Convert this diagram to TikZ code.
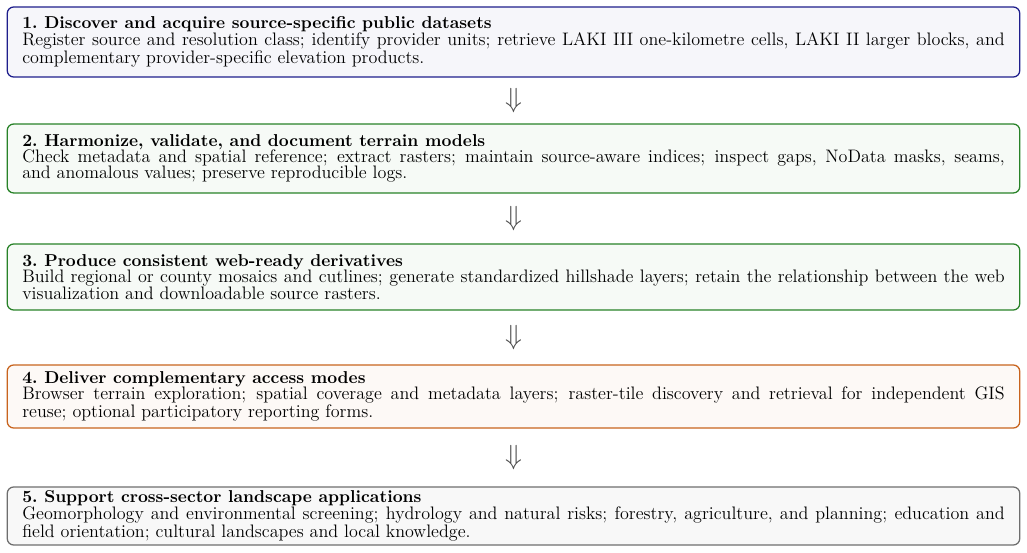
\documentclass[tikz,border=0pt]{standalone}
\usepackage{xcolor}

\definecolor{stepblue}{RGB}{30,30,140}
\definecolor{stepgreen}{RGB}{40,130,40}
\definecolor{steporange}{RGB}{200,100,30}
\definecolor{stepgray}{RGB}{110,110,110}

\hyphenpenalty=10000
\tolerance=5000
\lineskiplimit=-3pt

\newcommand{\stagetitle}[1]{{\fontsize{10.75pt}{10.2pt}\selectfont\bfseries #1}\\}

\begin{document}
\begin{tikzpicture}[x=0.625pt,y=0.625pt,
	stage/.style={draw,thick,rounded corners=4pt,text width=614pt,align=justify,
		inner xsep=9.4pt,inner ysep=1pt,anchor=center,
		font=\fontsize{11.3pt}{10.2pt}\selectfont},
	downarrow/.style={font=\LARGE,text=black!70}]

	\useasboundingbox (0,0) rectangle (1027,-553);

	% Stages
	\node[stage,draw=stepblue,fill=stepblue!4,minimum height=43.75pt] (s1) at (513.5,-42)
		{\stagetitle{1.\ Discover and acquire source-specific public datasets}
		Register source and resolution class; identify provider units; retrieve LAKI III one-kilometre cells, LAKI II larger blocks, and complementary provider-specific elevation products.};
	\node[stage,draw=stepgreen,fill=stepgreen!4,minimum height=43.1pt] (s2) at (513.5,-158.5)
		{\stagetitle{2.\ Harmonize, validate, and document terrain models}
		Check metadata and spatial reference; extract rasters; maintain source-aware indices; inspect gaps, NoData masks, seams,\linebreak and anomalous values; preserve reproducible logs.};
	\node[stage,draw=stepgreen,fill=stepgreen!4,minimum height=41.25pt] (s3) at (513.5,-277)
		{\stagetitle{3.\ Produce consistent web-ready derivatives}
		Build regional or county mosaics and cutlines; generate standardized hillshade layers; retain the relationship between the web visualization and downloadable source rasters.};
	\node[stage,draw=steporange,fill=steporange!4,minimum height=39.4pt] (s4) at (513.5,-396.5)
		{\stagetitle{4.\ Deliver complementary access modes}
		Browser terrain exploration; spatial coverage and metadata layers; raster-tile discovery and retrieval for independent GIS\linebreak reuse; optional participatory reporting forms.};
	\node[stage,draw=stepgray,fill=stepgray!5,minimum height=36.25pt] (s5) at (513.5,-516)
		{\stagetitle{5.\ Support cross-sector landscape applications}
		Geomorphology and environmental screening; hydrology and natural risks; forestry, agriculture, and planning; education and field orientation; cultural landscapes and local knowledge.};

	%link
	\path (s1.south) -- (s2.north) node[midway,downarrow] (a1) {$\Downarrow$};
	\path (s2.south) -- (s3.north) node[midway,downarrow] (a2) {$\Downarrow$};
	\path (s3.south) -- (s4.north) node[midway,downarrow] (a3) {$\Downarrow$};
	\path (s4.south) -- (s5.north) node[midway,downarrow] (a4) {$\Downarrow$};

\end{tikzpicture}
\end{document}
